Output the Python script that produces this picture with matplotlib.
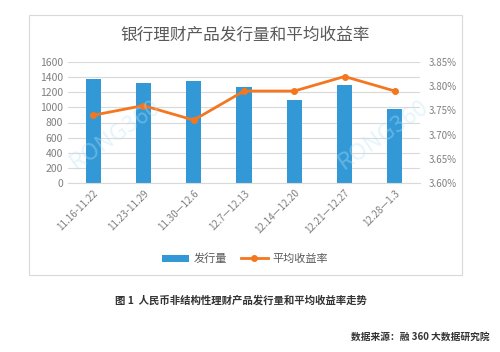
import matplotlib.pyplot as plt
from matplotlib.patches import Rectangle
from matplotlib.ticker import FuncFormatter

plt.rcParams['font.family'] = ['Noto Sans CJK SC', 'DejaVu Sans']

# data
weeks = ['11.16-11.22', '11.23-11.29', '11.30—12.6', '12.7—12.13',
         '12.14—12.20', '12.21—12.27', '12.28—1.3']
issued = [1375, 1327, 1345, 1265, 1098, 1292, 983]
avg_yield = [3.74, 3.76, 3.73, 3.79, 3.79, 3.82, 3.79]

blue = '#3399d6'
orange = '#f4771f'
grey = '#7f7f7f'

fig = plt.figure(figsize=(5, 3.52), dpi=100)
fig.patch.set_facecolor('white')

# chart frame
fig.patches.append(Rectangle((29/500, 1 - 275/352), 433/500, 260/352,
                             transform=fig.transFigure, fill=False,
                             edgecolor='#d9d9d9', linewidth=0.8))

ax = fig.add_axes([68/500, 1 - 183/352, 352/500, 121/352])
x = range(len(weeks))
bars = ax.bar(x, issued, width=0.3, color=blue, label='发行量', zorder=2)
ax.set_ylim(0, 1600)
ax.set_yticks(range(0, 1601, 200))
ax.set_xlim(-0.5, len(weeks) - 0.5)
ax.grid(axis='y', color='#d9d9d9', linewidth=0.8, zorder=0)
ax.set_axisbelow(True)
for s in ax.spines.values():
    s.set_visible(False)
ax.spines['bottom'].set_visible(True)
ax.spines['bottom'].set_color('#d9d9d9')
ax.tick_params(axis='both', length=0, labelsize=7.5, labelcolor=grey)
ax.set_xticks(list(x))
ax.set_xticklabels(weeks, rotation=45, ha='right', rotation_mode='anchor', fontsize=7)

ax2 = ax.twinx()
line, = ax2.plot(x, avg_yield, color=orange, marker='o', markersize=4,
                 linewidth=2, label='平均收益率', zorder=3)
ax2.set_ylim(3.60, 3.85)
ax2.set_yticks([3.60, 3.65, 3.70, 3.75, 3.80, 3.85])
ax2.yaxis.set_major_formatter(FuncFormatter(lambda v, p: f'{v:.2f}%'))
for s in ax2.spines.values():
    s.set_visible(False)
ax2.tick_params(axis='y', length=0, labelsize=7, labelcolor=grey, pad=6)

fig.text(245/500, 1 - 35/352, '银行理财产品发行量和平均收益率', ha='center', va='center',
         fontsize=12, color='#595959')

# watermark
fig.text(115/500, 1 - 135/352, 'RONG360', rotation=35, fontsize=17, color='#b8e4f5',
         alpha=0.35, ha='center', va='center')
fig.text(383/500, 1 - 135/352, 'RONG360', rotation=35, fontsize=17, color='#b8e4f5',
         alpha=0.35, ha='center', va='center')

fig.legend(handles=[bars, line], loc='center', bbox_to_anchor=(245/500, 1 - 259/352),
           ncol=2, frameon=False, fontsize=8, labelcolor='#595959',
           handlelength=2.5, columnspacing=1.2, handletextpad=0.4)

fig.text(115/500, 1 - 300/352, '图 1  人民币非结构性理财产品发行量和平均收益率走势',
         ha='left', va='center', fontsize=7.5, fontweight='bold', color='#333333')
fig.text(490/500, 1 - 337/352, '数据来源：融 360 大数据研究院',
         ha='right', va='center', fontsize=7, fontweight='bold', color='#333333')

fig.savefig('out.png', dpi=100)
